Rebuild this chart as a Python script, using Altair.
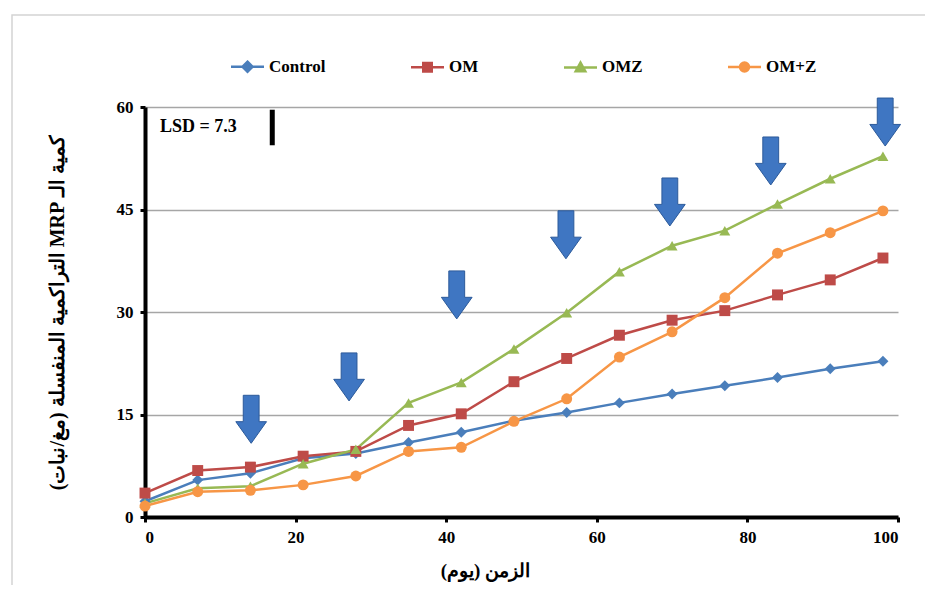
import altair as alt
import pandas as pd

# ---------------- data ----------------
days = [0, 7, 14, 21, 28, 35, 42, 49, 56, 63, 70, 77, 84, 91, 98]
control = [2.3, 5.4, 6.4, 8.6, 9.3, 10.9, 12.4, 14.1, 15.3, 16.7, 18.0, 19.2, 20.4, 21.7, 22.8]
om = [3.5, 6.8, 7.3, 8.9, 9.6, 13.4, 15.1, 19.8, 23.2, 26.6, 28.8, 30.2, 32.5, 34.7, 37.9]
omz = [2.0, 4.2, 4.5, 7.8, 9.9, 16.7, 19.7, 24.6, 29.9, 35.9, 39.7, 41.9, 45.8, 49.5, 52.8]
om_plus_z = [1.6, 3.7, 3.9, 4.7, 6.0, 9.6, 10.2, 14.0, 17.3, 23.4, 27.1, 32.1, 38.6, 41.6, 44.8]

series_names = ["Control", "OM", "OMZ", "OM+Z"]
series_colors = ["#4A7EBB", "#BE4B48", "#98B954", "#F79646"]
series_shapes = ["diamond", "square", "triangle-up", "circle"]

arrow_x = [14.1, 27.1, 41.4, 55.9, 69.7, 83.1, 98.3]
arrow_y = [14.3, 20.5, 32.5, 41.3, 46.1, 52.1, 57.8]

lsd_label = "LSD = 7.3"
lsd_text_x, lsd_text_y = 2.0, 57.1
lsd_bar_x, lsd_bar_y1, lsd_bar_y2 = 16.9, 54.4, 59.6

x_ticks = [0, 20, 40, 60, 80, 100]
y_ticks = [0, 15, 30, 45, 60]
RLE, PDF = "\u202B", "\u202C"
x_title = RLE + "الزمن (يوم)" + PDF
y_title = RLE + "كمية الـ MRP التراكمية المنفسلة (مغ/نبات)" + PDF

# ---------------- tables ----------------
rows = []
for name, vals in zip(series_names, [control, om, omz, om_plus_z]):
    for d, v in zip(days, vals):
        rows.append({"day": d, "value": v, "series": name})
df = pd.DataFrame(rows)
arrows = pd.DataFrame({"ax": arrow_x, "ay": arrow_y})
lsd_txt = pd.DataFrame({"x": [lsd_text_x], "y": [lsd_text_y], "t": [lsd_label]})
lsd_bar = pd.DataFrame({"x": [lsd_bar_x], "y": [lsd_bar_y1], "y2": [lsd_bar_y2]})

FONT = "Liberation Serif"

x_enc = alt.X("day:Q", scale=alt.Scale(domain=[0, 100], nice=False),
              axis=alt.Axis(values=x_ticks, title=x_title, grid=False,
                            labelPadding=7, titlePadding=16, titleFontSize=19,
                            titleX=340))
y_enc = alt.Y("value:Q", scale=alt.Scale(domain=[0, 60], nice=False),
              axis=alt.Axis(values=y_ticks, title=y_title, grid=True,
                            labelPadding=7, titlePadding=49, titleFontSize=20))

color_scale = alt.Scale(domain=series_names, range=series_colors)

# legend symbols: a short line with the series marker on it
line_part = "M-3.3,0L3.3,0"
legend_paths = [
    line_part + "M0,-1L1,0L0,1L-1,0Z",
    line_part + "M-0.85,-0.85L0.85,-0.85L0.85,0.85L-0.85,0.85Z",
    line_part + "M0,-0.95L0.95,0.75L-0.95,0.75Z",
    line_part + "M-0.9,0A0.9,0.9,0,1,0,0.9,0A0.9,0.9,0,1,0,-0.9,0Z",
]
legend_def = alt.Legend(
    title=None, orient="none", direction="horizontal", legendX=94, legendY=-49,
    labelFont=FONT, labelFontSize=17, labelFontWeight="bold", labelColor="black",
    symbolSize=100, labelOffset=13, columnPadding=80, gridAlign="each", padding=0,
    symbolStrokeWidth=2.5, symbolOpacity=1,
)

base = alt.Chart(df)
lines = base.mark_line(strokeWidth=2.5).encode(
    x=x_enc, y=y_enc, color=alt.Color("series:N", scale=color_scale, legend=None))
points = base.mark_point(filled=True, size=120, opacity=1, strokeWidth=1).encode(
    x="day:Q", y="value:Q",
    color=alt.Color("series:N", scale=color_scale, legend=None),
    shape=alt.Shape("series:N", scale=alt.Scale(domain=series_names, range=series_shapes), legend=None),
)
legend_layer = base.mark_point(opacity=0).encode(
    x="day:Q", y="value:Q",
    fill=alt.Fill("series:N", scale=color_scale, legend=legend_def, sort=series_names),
    stroke=alt.Stroke("series:N", scale=color_scale, legend=legend_def, sort=series_names),
    shape=alt.Shape("series:N", scale=alt.Scale(domain=series_names, range=legend_paths),
                    legend=legend_def, sort=series_names),
)

ARROW = "M-0.33,-1L0.33,-1L0.33,0.1L0.64,0.1L0,1L-0.64,0.1L-0.33,0.1Z"
arrow_layer = alt.Chart(arrows).mark_point(
    shape=ARROW, size=2304, filled=True, fill="#3F76C2", stroke="#2C5A9A",
    strokeWidth=1, opacity=1,
).encode(x="ax:Q", y="ay:Q")

lsd_text_layer = alt.Chart(lsd_txt).mark_text(
    align="left", baseline="middle", font=FONT, fontSize=18, fontWeight="bold", color="black"
).encode(x="x:Q", y="y:Q", text="t:N")
lsd_bar_layer = alt.Chart(lsd_bar).mark_rule(strokeWidth=5, color="black").encode(
    x="x:Q", y="y:Q", y2="y2:Q")

frame = alt.Chart(lsd_bar).mark_rect(fillOpacity=0, stroke="#d4d4d4", strokeWidth=1.5).encode(
    x=alt.value(-133), x2=alt.value(800), y=alt.value(-92), y2=alt.value(500))

chart = alt.layer(frame, lines, points, legend_layer, arrow_layer, lsd_bar_layer, lsd_text_layer).resolve_scale(
    shape="independent", fill="independent", stroke="independent"
).properties(
    width=753, height=410,
    autosize=alt.AutoSizeParams(type="none"),
    padding={"left": 137, "top": 99, "right": 27, "bottom": 68},
).configure_axis(
    domainColor="black", domainWidth=4, tickColor="black", tickWidth=3, tickSize=5,
    labelFont=FONT, labelFontSize=17, labelFontWeight="bold", labelColor="black",
    titleFont=FONT, titleFontSize=17, titleFontWeight="bold", titleColor="black",
    gridColor="#a6a6a6", gridWidth=1.3,
).configure_view(strokeWidth=0)

chart.save("out.html", embed_options={"renderer": "svg", "actions": False})
